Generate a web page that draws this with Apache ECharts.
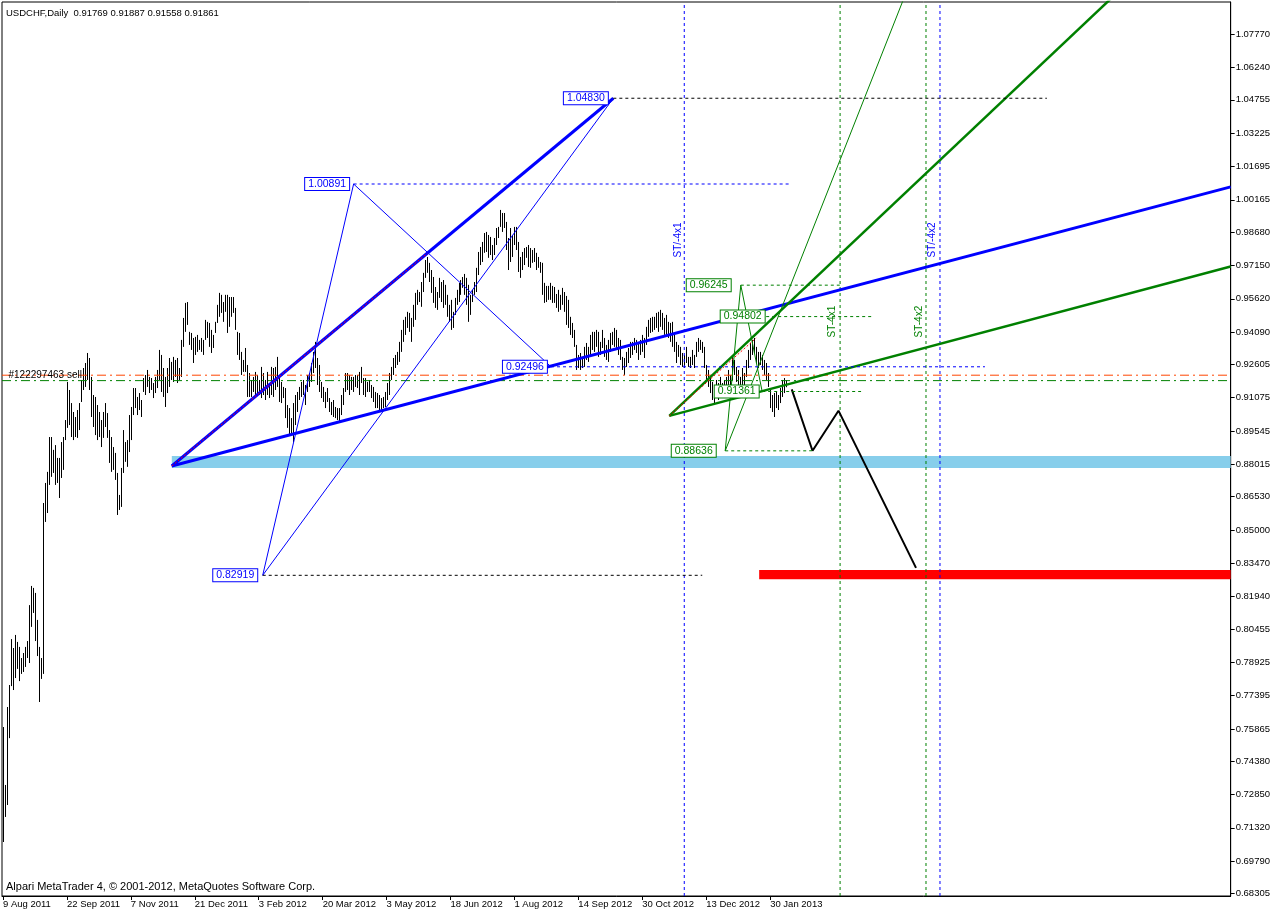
<!DOCTYPE html>
<html>
<head>
<meta charset="utf-8">
<title>USDCHF,Daily</title>
<script src="https://cdn.jsdelivr.net/npm/echarts@6.0.0/dist/echarts.min.js"></script>
<style>
html, body { margin: 0; padding: 0; background: #fff; }
#chart1 { width: 1273px; height: 913px; }
</style>
</head>
<body>
<div id="chart1"></div>
<script>
// init
let chart1 = echarts.init(document.getElementById('chart1'));

let font = 'Liberation Sans';
let blue = '#0000ff';
let green = '#008000';

// daily highs / lows from 9 Aug 2011, one value per bar
let highs = [
    0.7595, 0.7329, 0.7687, 0.7788, 0.7999, 0.7958, 0.8018, 0.7986, 0.7963, 0.7912,
    0.7935, 0.7963, 0.7990, 0.8155, 0.8243, 0.8234, 0.8211, 0.8087, 0.7963, 0.7912,
    0.8624, 0.8716, 0.8767, 0.8927, 0.8927, 0.8868, 0.8890, 0.8831, 0.8831, 0.8904,
    0.8927, 0.9005, 0.9180, 0.9143, 0.9083, 0.9042, 0.9019, 0.9051, 0.9083, 0.9189,
    0.9244, 0.9267, 0.9313, 0.9290, 0.9203, 0.9120, 0.9111, 0.9074, 0.9042, 0.9005,
    0.9042, 0.9083, 0.9037, 0.8959, 0.8927, 0.8881, 0.8854, 0.8762, 0.8661, 0.8785,
    0.8959, 0.8904, 0.8913, 0.9028, 0.9065, 0.9152, 0.9152, 0.9111, 0.9129, 0.9097,
    0.9198, 0.9212, 0.9235, 0.9203, 0.9198, 0.9175, 0.9203, 0.9235, 0.9327, 0.9304,
    0.9244, 0.9203, 0.9244, 0.9290, 0.9272, 0.9295, 0.9281, 0.9290, 0.9244, 0.9373,
    0.9474, 0.9543, 0.9547, 0.9410, 0.9405, 0.9382, 0.9387, 0.9396, 0.9373, 0.9382,
    0.9373, 0.9465, 0.9456, 0.9451, 0.9419, 0.9396, 0.9456, 0.9534, 0.9589, 0.9580,
    0.9547, 0.9580, 0.9580, 0.9570, 0.9570, 0.9570, 0.9520, 0.9410, 0.9405, 0.9318,
    0.9281, 0.9336, 0.9258, 0.9221, 0.9189, 0.9203, 0.9226, 0.9212, 0.9189, 0.9249,
    0.9221, 0.9189, 0.9226, 0.9175, 0.9249, 0.9244, 0.9249, 0.9295, 0.9198, 0.9180,
    0.9157, 0.9152, 0.9074, 0.9060, 0.9014, 0.9083, 0.9120, 0.9134, 0.9157, 0.9180,
    0.9189, 0.9166, 0.9212, 0.9221, 0.9267, 0.9318, 0.9364, 0.9290, 0.9258, 0.9180,
    0.9157, 0.9134, 0.9152, 0.9106, 0.9088, 0.9097, 0.9065, 0.9060, 0.9060, 0.9120,
    0.9152, 0.9221, 0.9221, 0.9212, 0.9203, 0.9203, 0.9212, 0.9212, 0.9226, 0.9249,
    0.9198, 0.9198, 0.9180, 0.9189, 0.9166, 0.9157, 0.9134, 0.9129, 0.9120, 0.9106,
    0.9111, 0.9134, 0.9175, 0.9221, 0.9249, 0.9290, 0.9304, 0.9318, 0.9364, 0.9419,
    0.9465, 0.9479, 0.9502, 0.9497, 0.9474, 0.9534, 0.9589, 0.9603, 0.9593, 0.9639,
    0.9681, 0.9740, 0.9754, 0.9727, 0.9694, 0.9662, 0.9616, 0.9593, 0.9658, 0.9639,
    0.9648, 0.9626, 0.9580, 0.9534, 0.9557, 0.9502, 0.9566, 0.9603, 0.9635, 0.9648,
    0.9662, 0.9676, 0.9658, 0.9626, 0.9580, 0.9603, 0.9639, 0.9704, 0.9777, 0.9800,
    0.9823, 0.9864, 0.9869, 0.9855, 0.9846, 0.9809, 0.9841, 0.9887, 0.9892, 0.9970,
    0.9956, 0.9956, 0.9915, 0.9841, 0.9887, 0.9855, 0.9892, 0.9892, 0.9823, 0.9754,
    0.9777, 0.9795, 0.9800, 0.9809, 0.9795, 0.9786, 0.9795, 0.9773, 0.9754, 0.9731,
    0.9727, 0.9635, 0.9621, 0.9621, 0.9635, 0.9621, 0.9616, 0.9584, 0.9603, 0.9580,
    0.9612, 0.9593, 0.9575, 0.9557, 0.9479, 0.9451, 0.9419, 0.9350, 0.9304, 0.9313,
    0.9295, 0.9341, 0.9359, 0.9341, 0.9396, 0.9410, 0.9410, 0.9419, 0.9410, 0.9364,
    0.9419, 0.9382, 0.9350, 0.9373, 0.9405, 0.9410, 0.9428, 0.9419, 0.9382, 0.9373,
    0.9295, 0.9290, 0.9318, 0.9336, 0.9364, 0.9364, 0.9382, 0.9373, 0.9359, 0.9373,
    0.9396, 0.9382, 0.9433, 0.9465, 0.9474, 0.9479, 0.9479, 0.9497, 0.9502, 0.9511,
    0.9497, 0.9474, 0.9488, 0.9456, 0.9451, 0.9456, 0.9405, 0.9364, 0.9350, 0.9341,
    0.9313, 0.9304, 0.9341, 0.9295, 0.9295, 0.9327, 0.9304, 0.9364, 0.9382, 0.9373,
    0.9364, 0.9341, 0.9258, 0.9235, 0.9203, 0.9180, 0.9157, 0.9189, 0.9175, 0.9203,
    0.9175, 0.9189, 0.9203, 0.9235, 0.9212, 0.9295, 0.9281, 0.9249, 0.9235, 0.9203,
    0.9244, 0.9221, 0.9281, 0.9327, 0.9359, 0.9373, 0.9382, 0.9341, 0.9318, 0.9318,
    0.9304, 0.9281, 0.9267, 0.9221, 0.9143, 0.9120, 0.9129, 0.9134, 0.9120, 0.9152,
    0.9189, 0.9198, 0.91887
];
let lows = [
    0.7067, 0.7182, 0.7237, 0.7544, 0.7783, 0.7765, 0.7820, 0.7862, 0.7806, 0.7839,
    0.7848, 0.7871, 0.7912, 0.7889, 0.8055, 0.8119, 0.7990, 0.7921, 0.7710, 0.7816,
    0.7839, 0.8537, 0.8578, 0.8707, 0.8744, 0.8762, 0.8707, 0.8716, 0.8647, 0.8739,
    0.8776, 0.8913, 0.8969, 0.8982, 0.8927, 0.8913, 0.8927, 0.8923, 0.8959, 0.9088,
    0.9143, 0.9157, 0.9189, 0.9143, 0.9019, 0.8973, 0.8936, 0.8913, 0.8927, 0.8881,
    0.8923, 0.8973, 0.8923, 0.8808, 0.8767, 0.8776, 0.8730, 0.8569, 0.8592, 0.8606,
    0.8762, 0.8813, 0.8790, 0.8858, 0.8913, 0.9028, 0.9060, 0.9028, 0.9051, 0.9019,
    0.9134, 0.9120, 0.9157, 0.9129, 0.9143, 0.9106, 0.9129, 0.9152, 0.9189, 0.9134,
    0.9111, 0.9065, 0.9129, 0.9157, 0.9189, 0.9180, 0.9203, 0.9175, 0.9189, 0.9203,
    0.9341, 0.9410, 0.9442, 0.9350, 0.9327, 0.9267, 0.9304, 0.9318, 0.9327, 0.9318,
    0.9304, 0.9373, 0.9382, 0.9341, 0.9313, 0.9336, 0.9405, 0.9451, 0.9479, 0.9497,
    0.9456, 0.9502, 0.9405, 0.9433, 0.9479, 0.9497, 0.9419, 0.9304, 0.9281, 0.9212,
    0.9226, 0.9226, 0.9111, 0.9111, 0.9111, 0.9134, 0.9111, 0.9129, 0.9120, 0.9106,
    0.9120, 0.9097, 0.9120, 0.9106, 0.9120, 0.9111, 0.9143, 0.9157, 0.9088, 0.9083,
    0.9106, 0.9014, 0.8969, 0.8936, 0.8936, 0.8904, 0.8982, 0.9042, 0.9097, 0.9111,
    0.9120, 0.9074, 0.9134, 0.9157, 0.9180, 0.9221, 0.9244, 0.9166, 0.9134, 0.9106,
    0.9088, 0.9060, 0.9088, 0.9042, 0.9028, 0.9019, 0.9014, 0.9005, 0.8996, 0.9028,
    0.9074, 0.9134, 0.9143, 0.9120, 0.9143, 0.9134, 0.9157, 0.9152, 0.9120, 0.9175,
    0.9120, 0.9111, 0.9134, 0.9134, 0.9106, 0.9088, 0.9060, 0.9060, 0.9051, 0.9051,
    0.9060, 0.9065, 0.9097, 0.9120, 0.9189, 0.9212, 0.9244, 0.9258, 0.9272, 0.9318,
    0.9364, 0.9396, 0.9428, 0.9410, 0.9364, 0.9433, 0.9465, 0.9534, 0.9547, 0.9525,
    0.9593, 0.9658, 0.9681, 0.9639, 0.9589, 0.9543, 0.9520, 0.9511, 0.9566, 0.9547,
    0.9520, 0.9534, 0.9479, 0.9456, 0.9419, 0.9428, 0.9488, 0.9534, 0.9547, 0.9580,
    0.9612, 0.9580, 0.9534, 0.9456, 0.9488, 0.9547, 0.9580, 0.9593, 0.9671, 0.9717,
    0.9731, 0.9773, 0.9777, 0.9750, 0.9763, 0.9740, 0.9763, 0.9809, 0.9841, 0.9892,
    0.9869, 0.9887, 0.9786, 0.9694, 0.9731, 0.9754, 0.9809, 0.9786, 0.9685, 0.9658,
    0.9694, 0.9717, 0.9750, 0.9708, 0.9704, 0.9727, 0.9731, 0.9694, 0.9704, 0.9681,
    0.9580, 0.9543, 0.9547, 0.9557, 0.9557, 0.9543, 0.9543, 0.9520, 0.9502, 0.9511,
    0.9534, 0.9502, 0.9442, 0.9428, 0.9396, 0.9382, 0.9341, 0.9235, 0.9244, 0.9235,
    0.9244, 0.9249, 0.9281, 0.9272, 0.9304, 0.9327, 0.9318, 0.9341, 0.9295, 0.9304,
    0.9336, 0.9295, 0.9281, 0.9272, 0.9318, 0.9350, 0.9341, 0.9327, 0.9304, 0.9281,
    0.9235, 0.9212, 0.9249, 0.9267, 0.9290, 0.9304, 0.9327, 0.9313, 0.9281, 0.9304,
    0.9318, 0.9290, 0.9350, 0.9387, 0.9405, 0.9410, 0.9419, 0.9428, 0.9410, 0.9433,
    0.9419, 0.9396, 0.9387, 0.9382, 0.9364, 0.9341, 0.9318, 0.9267, 0.9295, 0.9258,
    0.9249, 0.9244, 0.9267, 0.9249, 0.9244, 0.9258, 0.9244, 0.9295, 0.9318, 0.9327,
    0.9313, 0.9244, 0.9180, 0.9157, 0.9129, 0.9097, 0.9083, 0.9120, 0.9097, 0.9120,
    0.9111, 0.9129, 0.9120, 0.9157, 0.9134, 0.9189, 0.9212, 0.9180, 0.9157, 0.9143,
    0.9157, 0.9143, 0.9203, 0.9244, 0.9281, 0.9304, 0.9313, 0.9267, 0.9244, 0.9258,
    0.9235, 0.9212, 0.9189, 0.9157, 0.9060, 0.9042, 0.9019, 0.9060, 0.9051, 0.9083,
    0.9111, 0.9129, 0.91558
];
// last bar O H L C
let lastBar = [0.91769, 0.91887, 0.91558, 0.91861];

// time axis: one label every 32 bars
let dateLabels = ['9 Aug 2011', '22 Sep 2011', '7 Nov 2011', '21 Dec 2011', '3 Feb 2012', '20 Mar 2012',
    '3 May 2012', '18 Jun 2012', '1 Aug 2012', '14 Sep 2012', '30 Oct 2012', '13 Dec 2012', '30 Jan 2013'];
let dateStep = 32;
let slotCount = 615;

// price axis labels
let priceTicks = [1.07770, 1.06240, 1.04755, 1.03225, 1.01695, 1.00165, 0.98680, 0.97150, 0.95620,
    0.94090, 0.92605, 0.91075, 0.89545, 0.88015, 0.86530, 0.85000, 0.83470, 0.81940, 0.80455,
    0.78925, 0.77395, 0.75865, 0.74380, 0.72850, 0.71320, 0.69790, 0.68305];
let priceMin = 0.6819;
let priceMax = 1.0925;

// drawn objects, points are [bar index, price]
let blueChannel = [[84.5, 0.8794], [305.5, 1.04830]];
let blueRay = [[84.5, 0.8794], [614.5, 1.0076]];
let blueWaveUp = [[130, 0.82919], [175.5, 1.00891]];
let blueWaveDown = [[175.5, 1.00891], [274.3, 0.92496]];
let blueWaveLong = [[130, 0.82919], [305.5, 1.04830]];
let redHiddenA = [[84.5, 0.8794], [212.5, 0.9772]];
let greenSteep = [[333.5, 0.9024], [554.5, 1.0940]];
let greenFlat = [[333.5, 0.9024], [614.5, 0.9710]];
let redHiddenF = [[333.5, 0.9024], [377, 0.9382]];
let greenZigUp = [[361.5, 0.88636], [369.3, 0.96245]];
let greenZigDown = [[369.3, 0.96245], [380, 0.91361]];
let greenThinRay = [[361.5, 0.88636], [452.6, 1.0981]];
let projection = [[394.8, 0.9146], [405.2, 0.8864], [418.2, 0.9048], [457, 0.8326]];

// level lines [start bar, end bar, price]
let blackLevels = [[305.5, 522.5, 1.04830], [130, 350, 0.82919]];
let blueLevels = [[175.5, 393.5, 1.00891], [274.3, 491.5, 0.92496]];
let greenLevels = [[369.3, 419.5, 0.96245], [382, 435, 0.94802], [380, 429.5, 0.91361], [361.5, 405, 0.88636]];

// price tags [bar, price, text]
let blueTags = [[304, 1.04830, '1.04830'], [174.5, 1.00891, '1.00891'], [273.5, 0.92496, '0.92496'], [128.5, 0.82919, '0.82919']];
let greenTags = [[365.5, 0.96245, '0.96245'], [382.5, 0.94802, '0.94802'], [379.5, 0.91361, '0.91361'], [358, 0.88636, '0.88636']];

// vertical lines and their names
let blueVLines = [341, 469];
let greenVLines = [419, 462];
let blueVNames = [[338, 0.9832, 'ST/-4x1'], [465.2, 0.9832, 'ST/-4x2']];
let greenVNames = [[415.2, 0.9457, 'ST-4x1'], [458.5, 0.9457, 'ST-4x2']];

// zones [start bar, end bar, top, bottom]
let supportZone = [84.5, 614.5, 0.8840, 0.8785];
let targetZone = [378.5, 614.5, 0.8316, 0.8274];

// order line
let orderPrice = 0.9211;
let orderName = '#122297463 sell';

let barData = highs.map(function (h, i) { return [i, lows[i], h]; });
let labelSlots = dateLabels.map(function (d, i) { return i * dateStep; });
let xMin = -0.5;
let xMax = slotCount - 0.5;

function trendLine(data, color, width, type) {
    return {
        type: 'line', data: data, symbol: 'none', silent: true, z: 4,
        lineStyle: { color: color, width: width, type: type || 'solid' },
        itemStyle: { color: color }
    };
}

function levelLines(levels, color) {
    return levels.map(function (l) {
        return trendLine([[l[0], l[2]], [l[1], l[2]]], color, 1, [3, 3]);
    });
}

function vLines(xs, color) {
    return xs.map(function (x) {
        return trendLine([[x, priceMin], [x, priceMax]], color, 1, [3, 3]);
    });
}

function textPoints(items, color, label) {
    return {
        type: 'scatter', symbolSize: 1, silent: true, z: 6,
        itemStyle: { color: 'rgba(0,0,0,0)', opacity: 1 },
        data: items.map(function (d) { return { value: [d[0], d[1]], name: d[2] }; }),
        label: Object.assign({ show: true, formatter: '{b}', color: color, fontFamily: font }, label)
    };
}

function tags(items, color) {
    return textPoints(items, color, {
        position: 'left', distance: 2, fontSize: 10.5, lineHeight: 12,
        backgroundColor: '#fff', borderColor: color, borderWidth: 1, padding: [0, 3, 0, 3]
    });
}

function vNames(items, color) {
    return textPoints(items, color, { position: 'inside', rotate: 90, fontSize: 10 });
}

let series = [{
    name: 'USDCHF',
    type: 'custom',
    z: 2,
    silent: true,
    encode: { x: 0, y: [1, 2] },
    data: barData,
    renderItem: function (params, api) {
        let top = api.coord([api.value(0), api.value(2)]);
        let bottom = api.coord([api.value(0), api.value(1)]);
        let x = Math.round(top[0]) + 0.5;
        return {
            type: 'line',
            shape: { x1: x, y1: top[1], x2: x, y2: bottom[1] },
            style: { stroke: '#000', lineWidth: 1 }
        };
    },
    markArea: {
        silent: true,
        data: [
            [{ xAxis: supportZone[0], yAxis: supportZone[2], itemStyle: { color: '#87ceeb' } },
                { xAxis: supportZone[1], yAxis: supportZone[3] }],
            [{ xAxis: targetZone[0], yAxis: targetZone[2], itemStyle: { color: '#ff0000' } },
                { xAxis: targetZone[1], yAxis: targetZone[3] }]
        ]
    },
    markLine: {
        silent: true,
        symbol: 'none',
        lineStyle: { opacity: 0 },
        data: [{
            yAxis: lastBar[3],
            label: {
                show: true, position: 'end', distance: 1,
                formatter: lastBar[3].toFixed(5),
                backgroundColor: '#000', color: '#fff',
                fontSize: 10, fontFamily: font, padding: [2, 3, 1, 3]
            }
        }]
    }
}]
    .concat(vLines(blueVLines, blue))
    .concat(vLines(greenVLines, green))
    .concat([
        trendLine([[xMin, orderPrice], [xMax, orderPrice]], '#ff4500', 1, [9, 4, 2, 4]),
        trendLine([[xMin, lastBar[3]], [xMax, lastBar[3]]], green, 1, [9, 4, 2, 4]),
        trendLine(blueChannel, blue, 3),
        trendLine(blueRay, blue, 3),
        trendLine(redHiddenA, '#ff0000', 1, [2, 2]),
        trendLine(blueWaveUp, blue, 1),
        trendLine(blueWaveDown, blue, 1),
        trendLine(blueWaveLong, blue, 1),
        trendLine(greenSteep, green, 2.5),
        trendLine(greenFlat, green, 2.5),
        trendLine(redHiddenF, '#ff0000', 1, [2, 2]),
        trendLine(greenZigUp, green, 1),
        trendLine(greenZigDown, green, 1),
        trendLine(greenThinRay, green, 1),
        trendLine(projection, '#000', 2)
    ])
    .concat(levelLines(blackLevels, '#000'))
    .concat(levelLines(blueLevels, blue))
    .concat(levelLines(greenLevels, green))
    .concat([
        tags(blueTags, blue),
        tags(greenTags, green),
        vNames(blueVNames, blue),
        vNames(greenVNames, green),
        textPoints([[1.5, orderPrice, orderName]], '#000', { position: 'right', distance: 2, fontSize: 10 })
    ]);

let option = {
    backgroundColor: '#fff',
    animation: false,
    textStyle: { fontFamily: font, color: '#000' },
    title: {
        text: 'USDCHF,Daily  ' + lastBar.map(function (v) { return v.toFixed(5); }).join(' '),
        left: 1, top: 3,
        textStyle: { fontSize: 9.5, fontWeight: 'normal', color: '#000', fontFamily: font }
    },
    graphic: [{
        type: 'text', left: 6, top: 881,
        style: { text: 'Alpari MetaTrader 4, © 2001-2012, MetaQuotes Software Corp.', fill: '#000', fontSize: 11, fontFamily: font }
    }],
    grid: {
        left: 2, right: 41, top: 2, bottom: 17,
        show: true, borderColor: '#000', borderWidth: 1, backgroundColor: '#fff'
    },
    xAxis: {
        type: 'value',
        min: xMin,
        max: xMax,
        axisLine: { show: true, onZero: false, lineStyle: { color: '#000', width: 1 } },
        axisTick: { show: true, inside: false, length: 4, lineStyle: { color: '#000' }, customValues: labelSlots },
        axisLabel: {
            customValues: labelSlots,
            formatter: function (v) { return dateLabels[Math.round(v / dateStep)] || ''; },
            align: 'left', margin: 3, color: '#000', fontSize: 9.5, fontFamily: font
        },
        splitLine: { show: false }
    },
    yAxis: {
        type: 'value',
        position: 'right',
        min: priceMin,
        max: priceMax,
        axisLine: { show: true, onZero: false, lineStyle: { color: '#000', width: 1 } },
        axisTick: { show: true, inside: false, length: 4, lineStyle: { color: '#000' }, customValues: priceTicks },
        axisLabel: {
            customValues: priceTicks,
            formatter: function (v) { return v.toFixed(5); },
            margin: 5, color: '#000', fontSize: 9.5, fontFamily: font
        },
        splitLine: { show: false }
    },
    series: series
};

chart1.setOption(option);
window.onresize = chart1.resize;
</script>
</body>
</html>
